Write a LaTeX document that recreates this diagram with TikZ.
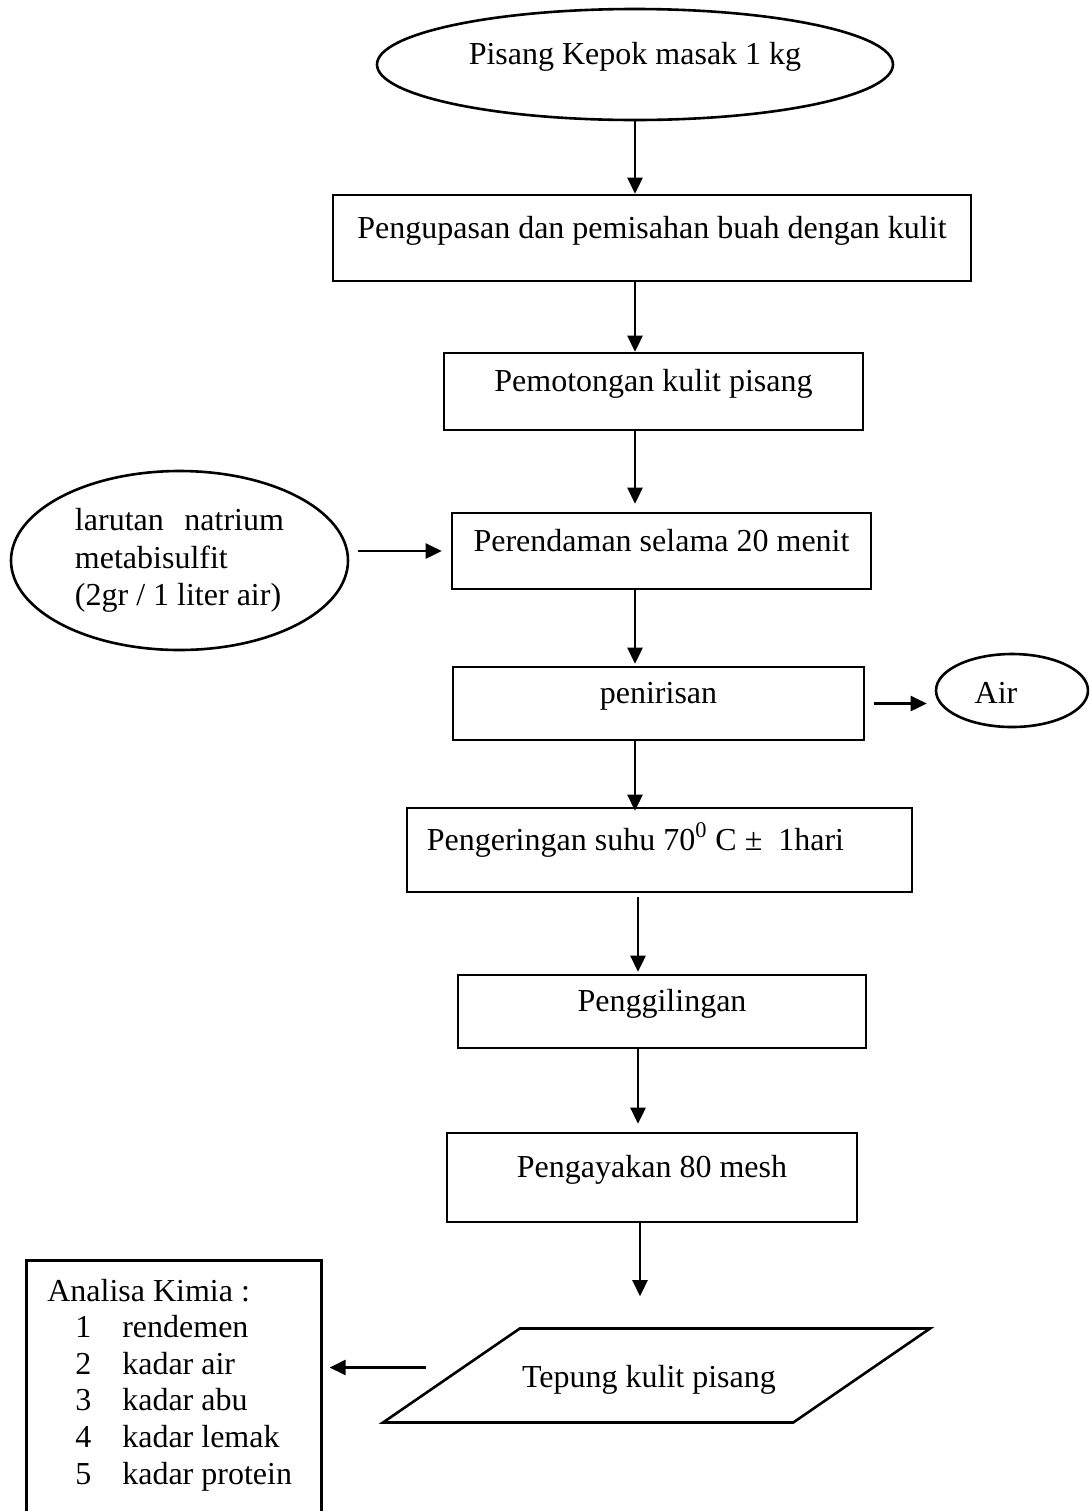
\documentclass[tikz,border=0pt]{standalone}
\usepackage{fontspec}
\setmainfont{Liberation Serif}
\usetikzlibrary{shapes.geometric,arrows.meta}
\begin{document}
\begin{tikzpicture}[
    x=.5pt,y=-.5pt,line width=1.3pt,
    every node/.style={font=\fontsize{16}{18.75}\selectfont},
    proses/.style={draw,rectangle,inner sep=0pt,text height=8pt,text depth=8pt},
    bulat/.style={draw,ellipse,inner sep=0pt},
    data/.style={draw,trapezium,trapezium left angle=34.5,trapezium right angle=145.5,
        trapezium stretches body,inner sep=0pt,text height=29.25pt,text depth=17.75pt},
    butir/.style={anchor=base west,inner sep=0pt},
    panah/.style={-{Triangle[length=8pt,width=7.5pt]}}]
    \useasboundingbox (0,0) rectangle (1089,1511);
    \clip (0,0) rectangle (1089,1511);

    \node[bulat,minimum width=258pt,minimum height=55.5pt,text height=8pt,text depth=8pt]
        (mulai) at (635,64.5) {Pisang Kepok masak 1 kg};
    \foreach \nama/\xx/\yy/\lebar/\tinggi/\isi in {
        kupas/652/238/319/43/Pengupasan dan pemisahan buah dengan kulit,
        potong/653.5/391.5/209.5/38.5/Pemotongan kulit pisang,
        rendam/661.5/551/209.5/38/Perendaman selama 20 menit,
        tiris/658.5/703.5/205.5/36.5/penirisan,
        giling/662/1011.5/204/36.5/Penggilingan,
        ayak/652/1177.5/205/44.5/Pengayakan 80 mesh} {
        \node[proses,minimum width=\lebar pt,minimum height=\tinggi pt]
            (\nama) at (\xx,\yy) {\isi};
    }
    \node[proses,minimum width=252.5pt,minimum height=42pt]
        (kering) at (659.5,850) {Pengeringan suhu 70\textsuperscript{0} C ±\ \ 1hari\hspace*{24pt}};
    \node[bulat,minimum width=168.5pt,minimum height=89.5pt,align=left]
        (larutan) at (179.5,560.5)
        {\makebox[104.5pt][s]{larutan natrium}\\metabisulfit\\(2gr / 1 liter air)};
    \node[bulat,minimum width=76pt,minimum height=36.5pt,text height=12.5pt,text depth=0pt]
        (air) at (1012,690.5) {Air\hspace*{16pt}};
    \node[data,minimum width=273.5pt] (tepung) at (656.5,1375.5)
        {Tepung kulit pisang\hspace*{7.5pt}};

    \node[draw,rectangle,inner sep=0pt,anchor=north west,
        minimum width=147.5pt,minimum height=150.5pt] (analisa) at (25,1259) {};
    \node[butir] (judul) at (46,1301) {Analisa Kimia :};
    \foreach \n/\isi in {1/rendemen,2/kadar air,3/kadar abu,4/kadar lemak,5/kadar protein} {
        \node[butir] (no\n) at (74,{1301+36.6*\n}) {\n};
        \node[butir] (uji\n) at (121,{1301+36.6*\n}) {\isi};
    }

    \foreach \a/\b/\xx/\sa/\sb in {
        mulai/kupas/635/0/0,kupas/potong/635/0/0,potong/rendam/635/0/4,
        rendam/tiris/635/0/1,tiris/kering/635/0/-2,kering/giling/638/2/1,
        giling/ayak/638/0/4,ayak/tepung/640/0/15.5} {
        \draw[panah,shorten <=\sa pt,shorten >=\sb pt]
            (\a.south -| \xx,0) -- (\b.north -| \xx,0);
    }
    \draw[panah,shorten <=4.5pt,shorten >=4.5pt] (larutan.east |- rendam.west) -- (rendam.west);
    \draw[panah,shorten <=4.5pt,shorten >=4pt] (tiris.east) -- (tiris.east -| air.west);
    \coordinate (keluar) at ([yshift=4pt]tepung.left side);
    \draw[panah,shorten <=11.75pt,shorten >=3.5pt] (keluar) -- (keluar -| analisa.east);
\end{tikzpicture}
\end{document}
